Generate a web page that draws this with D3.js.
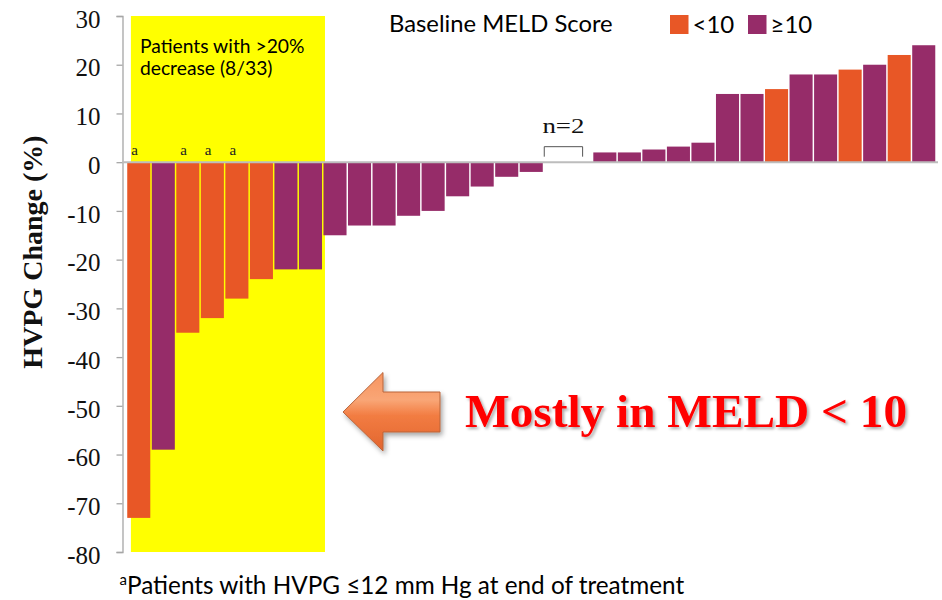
<!DOCTYPE html>
<html>
<head>
<meta charset="utf-8">
<script src="https://cdn.jsdelivr.net/npm/d3@7/dist/d3.min.js"></script>
<style>
  html, body { margin: 0; padding: 0; background: #fff; }
  svg { display: block; }
</style>
</head>
<body>
<svg id="chart" width="942" height="600"></svg>
<script>
// Per-patient HVPG change (%) at end of treatment, sorted ascending
const patientIds = d3.range(1, 34).map(String);
const hvpgChange = [-73, -59, -35, -32, -28, -24, -22, -22, -15, -13, -13, -11, -10, -7, -5, -3, -2,
                    0, 0, 2, 2, 2.6, 3.2, 4, 14, 14, 15, 18, 18, 19, 20, 22, 24];
// Baseline MELD score group for each patient
const meldGroup = ["<10", "≥10", "<10", "<10", "<10", "<10", "≥10", "≥10", "≥10", "≥10", "≥10",
                   "≥10", "≥10", "≥10", "≥10", "≥10", "≥10", "≥10", "≥10", "≥10", "≥10", "≥10",
                   "≥10", "≥10", "≥10", "≥10", "<10", "≥10", "≥10", "<10", "≥10", "<10", "≥10"];
// Patients with HVPG <=12 mm Hg at end of treatment (footnote a)
const lowHvpgAtEnd = [1, 0, 1, 1, 1, 0, 0, 0, 0, 0, 0, 0, 0, 0, 0, 0, 0,
                      0, 0, 0, 0, 0, 0, 0, 0, 0, 0, 0, 0, 0, 0, 0, 0];
const yTicks = [30, 20, 10, 0, -10, -20, -30, -40, -50, -60, -70, -80];
const legendGroups = ["<10", "≥10"];
const groupColors = ["#E85726", "#962C69"];

const data = patientIds.map((id, i) => ({
  id, value: hvpgChange[i], group: meldGroup[i], flag: lowHvpgAtEnd[i]
}));

const svg = d3.select("#chart");
const serif = "'Liberation Serif', 'Times New Roman', serif";
const sans = "Lato, 'Open Sans', sans-serif";

const x = d3.scaleBand().domain(patientIds).range([126.5, 936]).paddingInner(0.06).paddingOuter(0.03);
const y = d3.scaleLinear().domain([-80, 30]).range([552, 16]);
const color = d3.scaleOrdinal().domain(legendGroups).range(groupColors);

// defs: arrow gradient and shadows
const defs = svg.append("defs");
const grad = defs.append("linearGradient").attr("id", "arrowGrad")
  .attr("x1", 0).attr("y1", 0).attr("x2", 0).attr("y2", 1);
grad.append("stop").attr("offset", "0%").attr("stop-color", "#f7945f");
grad.append("stop").attr("offset", "35%").attr("stop-color", "#f9a676");
grad.append("stop").attr("offset", "55%").attr("stop-color", "#f27c42");
grad.append("stop").attr("offset", "100%").attr("stop-color", "#e2652e");
const sh = defs.append("filter").attr("id", "softShadow")
  .attr("x", "-20%").attr("y", "-20%").attr("width", "150%").attr("height", "150%");
sh.append("feDropShadow").attr("dx", 2).attr("dy", 3).attr("stdDeviation", 2.5)
  .attr("flood-color", "#000").attr("flood-opacity", 0.35);
const tsh = defs.append("filter").attr("id", "textShadow")
  .attr("x", "-5%").attr("y", "-20%").attr("width", "110%").attr("height", "150%");
tsh.append("feDropShadow").attr("dx", 2).attr("dy", 2).attr("stdDeviation", 1.5)
  .attr("flood-color", "#000").attr("flood-opacity", 0.35);

// Highlight box around patients with >20% decrease
const bigDrop = data.filter(d => d.value < -20);
const step = x.step();
const boxX0 = x(bigDrop[0].id) + step * 0.15;
const boxX1 = x(bigDrop[bigDrop.length - 1].id) + step + 1.5;
svg.append("rect")
  .attr("x", boxX0).attr("y", y(30))
  .attr("width", boxX1 - boxX0).attr("height", y(-80) - y(30))
  .attr("fill", "#FFFF00");

const boxText = svg.append("text")
  .attr("font-family", sans).attr("font-size", 19.3).attr("fill", "#000");
boxText.append("tspan").attr("x", boxX0 + 9).attr("y", 52.5).text("Patients with >20%");
boxText.append("tspan").attr("x", boxX0 + 9).attr("y", 75).text(`decrease (${bigDrop.length}/${data.length})`);

// Bars
svg.append("g").selectAll("rect").data(data).join("rect")
  .attr("x", d => x(d.id))
  .attr("width", x.bandwidth())
  .attr("y", d => y(Math.max(0, d.value)))
  .attr("height", d => Math.abs(y(d.value) - y(0)))
  .attr("fill", d => color(d.group));

// Footnote markers
svg.append("g").selectAll("text").data(data.filter(d => d.flag)).join("text")
  .attr("x", d => x(d.id) + x.bandwidth() * 0.32)
  .attr("y", y(0) - 7)
  .attr("text-anchor", "middle")
  .attr("font-family", serif).attr("font-size", 15).attr("fill", "#222")
  .text("a");

// Y axis
const yAxis = d3.axisLeft(y).tickValues(yTicks).tickSize(6).tickPadding(16).tickFormat(d3.format("d"));
const gy = svg.append("g").attr("transform", "translate(122.5,0)").call(yAxis);
gy.select(".domain").attr("stroke", "#a6a6a6").attr("stroke-width", 1.3);
gy.selectAll(".tick line").attr("stroke", "#a6a6a6").attr("stroke-width", 1.3);
gy.selectAll(".tick text")
  .attr("font-family", serif).attr("font-size", 25).attr("fill", "#111")
  .attr("dy", "0.45em")
  .text(d => d < 0 ? "-" + Math.abs(d) : d);

// Zero line
svg.append("line")
  .attr("x1", 122.5).attr("x2", 938)
  .attr("y1", y(0)).attr("y2", y(0))
  .attr("stroke", "#bdbdbd").attr("stroke-width", 2);

// Y axis title
svg.append("text")
  .attr("transform", `translate(42,${(y(30) + y(-80)) / 2 - 32}) rotate(-90)`)
  .attr("text-anchor", "middle")
  .attr("font-family", serif).attr("font-weight", "bold").attr("font-size", 28)
  .attr("fill", "#111")
  .text("HVPG Change (%)");

// n=2 bracket over the unchanged patients
const zeros = data.filter(d => d.value === 0);
const bx0 = x(zeros[0].id);
const bx1 = x(zeros[zeros.length - 1].id) + x.bandwidth() * 0.6;
svg.append("path")
  .attr("d", `M${bx0},${y(0) - 5.5} V${y(0) - 15.5} H${bx1} V${y(0) - 5.5}`)
  .attr("fill", "none").attr("stroke", "#555").attr("stroke-width", 1);
svg.append("text")
  .attr("x", (bx0 + bx1) / 2).attr("y", 132.5)
  .attr("text-anchor", "middle")
  .attr("font-family", serif).attr("font-size", 20).attr("fill", "#111")
  .attr("textLength", 42).attr("lengthAdjust", "spacingAndGlyphs")
  .text(`n=${zeros.length}`);

// Legend
svg.append("text")
  .attr("x", 389).attr("y", 32)
  .attr("font-family", sans).attr("font-size", 23.8).attr("fill", "#000")
  .text("Baseline MELD Score");
const legX = [670, 748];
const leg = svg.append("g").selectAll("g").data(legendGroups).join("g")
  .attr("transform", (d, i) => `translate(${legX[i]},15)`);
leg.append("rect").attr("width", 18.5).attr("height", 19).attr("fill", d => color(d));
leg.append("text").attr("x", 22.5).attr("y", 17.5)
  .attr("font-family", sans).attr("font-size", 24).attr("fill", "#000")
  .text(d => d);

// Callout arrow and message
svg.append("path")
  .attr("d", "M343,412 L383,372.5 L383,392 L440,392 L440,432 L383,432 L383,451 Z")
  .attr("fill", "url(#arrowGrad)")
  .attr("stroke", "#b9643a").attr("stroke-width", 1)
  .attr("filter", "url(#softShadow)");
svg.append("text")
  .attr("x", 465).attr("y", 427)
  .attr("font-family", serif).attr("font-weight", "bold").attr("font-size", 47.3)
  .attr("fill", "#FF0000")
  .attr("filter", "url(#textShadow)")
  .text("Mostly in MELD < 10");

// Footnote
const foot = svg.append("text")
  .attr("x", 119.5).attr("y", 594)
  .attr("font-family", sans).attr("font-size", 24.3).attr("fill", "#000");
foot.append("tspan").attr("font-size", 15).attr("dy", -9).text("a");
foot.append("tspan").attr("dy", 9).text("Patients with HVPG ≤12 mm Hg at end of treatment");
</script>
</body>
</html>
